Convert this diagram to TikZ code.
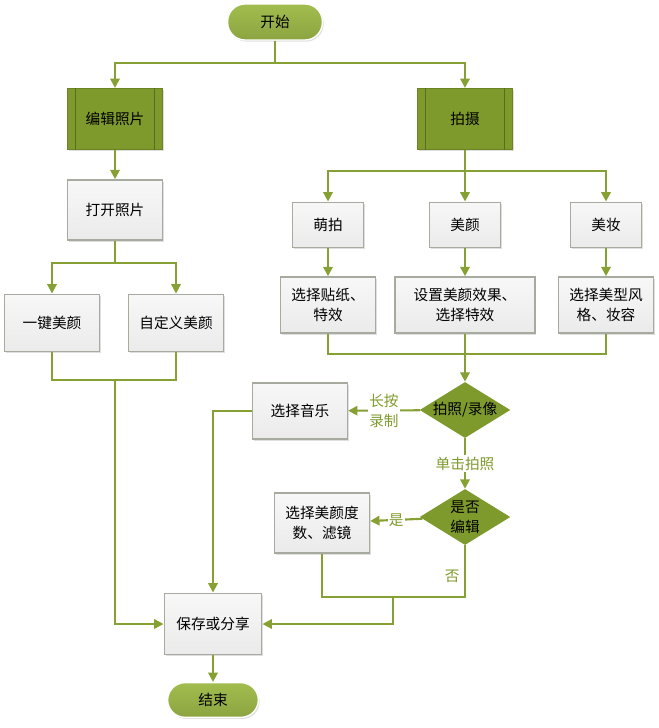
\documentclass[tikz,border=0pt]{standalone}
\usepackage{fontspec}
\setmainfont{Noto Sans CJK SC}
\usetikzlibrary{shapes.geometric,arrows.meta,shadows}
\definecolor{olive}{HTML}{7F9A2C}
\definecolor{oliveline}{HTML}{86A033}
\definecolor{olivelight}{HTML}{A2BD4E}
\definecolor{boxline}{HTML}{A7AA9F}
\begin{document}
\begin{tikzpicture}[x=0.75pt, y=-0.75pt, font=\fontsize{11}{15}\selectfont,
        >={Triangle[length=7pt, width=7pt]},
        line/.style = {draw=oliveline, line width=1.6pt},
        term/.style = {draw=white, line width=1pt, rounded corners=13pt, top color=olivelight, bottom color=olive!90!white,
            drop shadow={shadow xshift=1pt, shadow yshift=-1.2pt, opacity=0.25}},
        proc/.style = {draw=olive!85!black, line width=0.6pt, fill=olive, minimum width=71pt, minimum height=46pt,
            drop shadow={shadow xshift=1pt, shadow yshift=-1.2pt, opacity=0.25}},
        box/.style = {draw=boxline, line width=1.2pt, top color=gray!6, bottom color=gray!16, minimum width=71pt,
            minimum height=43pt, align=center, drop shadow={shadow xshift=1pt, shadow yshift=-1.2pt, opacity=0.25}},
        dec/.style = {diamond, fill=olive, inner sep=0pt, minimum width=68pt, minimum height=42pt},
        tag/.style = {fill=white, text=olive, inner sep=1pt, align=center}]
        \useasboundingbox (0,0) rectangle (659,728);
        % top
        \node[term, minimum width=71pt, minimum height=27pt] (start) at (275,22) {开始};
        \node[proc] (edit) at (115,119) {编辑照片};
        \node[proc] (shoot) at (465,119) {拍摄};
        \foreach \n in {edit, shoot} {
            \draw[olive!70!black, line width=0.5pt] ([xshift=6pt]\n.north west) -- ([xshift=6pt]\n.south west);
            \draw[olive!70!black, line width=0.5pt] ([xshift=-6pt]\n.north east) -- ([xshift=-6pt]\n.south east);
        }
        % left branch
        \node[box, minimum height=45pt] (open) at (115,210) {打开照片};
        \node[box] (onekey) at (52,323) {一键美颜};
        \node[box] (custom) at (176,323) {自定义美颜};
        % right branch
        \node[box, minimum width=53pt, minimum height=34pt] (cute) at (328,225) {萌拍};
        \node[box, minimum width=53pt, minimum height=34pt] (beauty) at (465,225) {美颜};
        \node[box, minimum width=53pt, minimum height=34pt] (makeup) at (606,225) {美妆};
        \node[box, minimum height=42pt] (sticker) at (328,305) {选择贴纸、\\特效};
        \node[box, minimum width=105pt, minimum height=42pt] (effect) at (465,305) {设置美颜效果、\\选择特效};
        \node[box, minimum height=42pt] (style) at (606,305) {选择美型风\\格、妆容};
        \node[dec] (mode) at (465,410) {}; \node at (mode) {拍照/录像};
        \node[box, minimum height=42pt] (music) at (300,411) {选择音乐};
        \node[dec] (edq) at (465,517) {}; \node[align=center] at (edq) {是否\\编辑};
        \node[box, minimum height=45pt] (filter) at (322,523) {选择美颜度\\数、滤镜};
        \node[box, minimum width=73pt, minimum height=46pt] (save) at (213,624) {保存或分享};
        \node[term, minimum width=68pt, minimum height=26pt] (end) at (213,700) {结束};
        % connectors
        \coordinate (s1) at (275,63);
        \coordinate (s2) at (115,263);
        \coordinate (j1) at (115,380);
        \coordinate (s3) at (465,171);
        \coordinate (j2) at (465,354);
        \coordinate (j3) at (393,597);
        \draw[line] (start) -- (s1);
        \draw[line, ->] (s1) -| (edit);
        \draw[line, ->] (s1) -| (shoot);
        \draw[line, ->] (edit) -- (open);
        \draw[line] (open) -- (s2);
        \draw[line, ->] (s2) -| (onekey);
        \draw[line, ->] (s2) -| (custom);
        \draw[line] (onekey) |- (j1);
        \draw[line] (custom) |- (j1);
        \draw[line, ->] (j1) |- (save);
        \draw[line] (shoot) -- (s3);
        \draw[line, ->] (s3) -| (cute);
        \draw[line, ->] (s3) -- (beauty);
        \draw[line, ->] (s3) -| (makeup);
        \draw[line, ->] (cute) -- (sticker);
        \draw[line, ->] (beauty) -- (effect);
        \draw[line, ->] (makeup) -- (style);
        \draw[line] (sticker) |- (j2);
        \draw[line] (style) |- (j2);
        \draw[line, ->] (effect) -- (mode);
        \draw[line, ->] (mode) -- node[midway, tag] {长按\\录制} (music);
        \draw[line, ->] (music) -| (save);
        \draw[line, ->] (mode) -- node[midway, tag] {单击拍照} (edq);
        \draw[line, ->] (edq) -- node[midway, tag] {是} (filter);
        \draw[line] (filter) |- (j3);
        \draw[line] (edq) |- node[pos=0.3, left, text=olive] {否} (j3);
        \draw[line, ->] (j3) |- (save);
        \draw[line, ->] (save) -- (end);
    \end{tikzpicture}
\end{document}
